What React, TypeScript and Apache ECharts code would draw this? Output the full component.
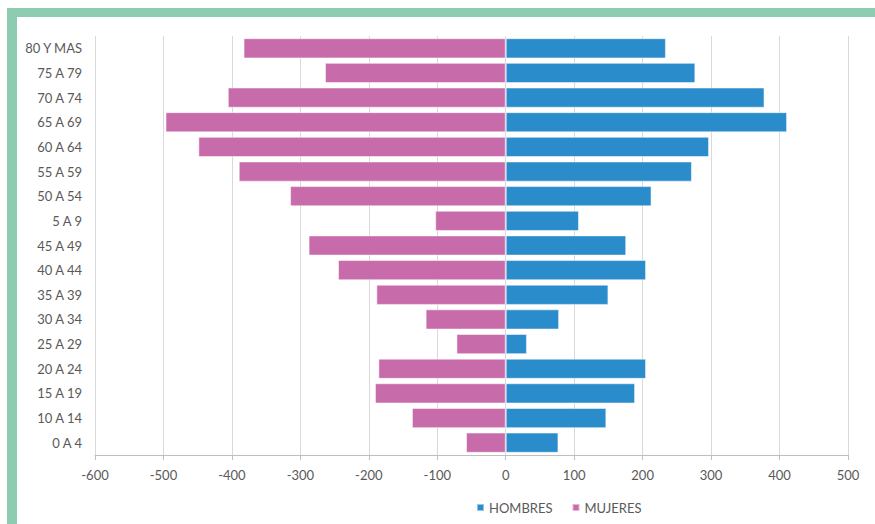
import React, { useEffect, useRef } from "react";
import * as echarts from "echarts";

const categories = [
  "0 A 4", "10 A 14", "15 A 19", "20 A 24", "25 A 29", "30 A 34", "35 A 39",
  "40 A 44", "45 A 49", "5 A 9", "50 A 54", "55 A 59", "60 A 64", "65 A 69",
  "70 A 74", "75 A 79", "80 Y MAS",
];
const hombres = [77, 147, 189, 205, 31, 78, 150, 205, 176, 107, 213, 272, 297, 411, 378, 277, 234];
const mujeres = [-58, -137, -191, -186, -72, -117, -189, -245, -288, -103, -315, -390, -449, -497, -406, -264, -383];
const seriesNames = ["HOMBRES", "MUJERES"];

const FONT = "Lato, 'Open Sans', sans-serif";

export default function App() {
  const ref = useRef<HTMLDivElement>(null);
  useEffect(() => {
    if (!ref.current) return;
    const chart = echarts.init(ref.current, null, { renderer: "svg" });
    chart.setOption({
      animation: false,
      grid: { left: 95, right: 27, top: 36, bottom: 69, containLabel: false },
      legend: {
        left: 476,
        top: 501,
        padding: 0,
        itemWidth: 7,
        itemHeight: 7,
        itemGap: 19,
        icon: "rect",
        textStyle: { fontFamily: FONT, fontSize: 13, color: "#595959" },
        data: seriesNames,
      },
      xAxis: {
        type: "value",
        min: -600,
        max: 500,
        interval: 100,
        axisLine: { show: true, onZero: false, lineStyle: { color: "#BFBFBF" } },
        axisTick: { show: true, length: 5, lineStyle: { color: "#BFBFBF" } },
        axisLabel: { margin: 13, fontFamily: FONT, fontSize: 13, color: "#595959" },
        splitLine: { show: true, lineStyle: { color: "#D9D9D9" } },
      },
      yAxis: {
        type: "category",
        data: categories,
        axisLine: { show: false, onZero: false },
        axisTick: { show: false },
        axisLabel: { margin: 13, fontFamily: FONT, fontSize: 13, color: "#595959" },
        splitLine: { show: false },
      },
      series: [
        {
          name: seriesNames[0],
          type: "bar",
          stack: "total",
          data: hombres,
          barCategoryGap: "18%",
          itemStyle: { color: "#2B8CCB", borderColor: "rgba(255,255,255,0.5)", borderWidth: 1 },
        },
        {
          name: seriesNames[1],
          type: "bar",
          stack: "total",
          data: mujeres,
          barCategoryGap: "18%",
          itemStyle: { color: "#C86BAA", borderColor: "rgba(255,255,255,0.5)", borderWidth: 1 },
        },
      ],
    });
    return () => chart.dispose();
  }, []);

  return (
    <div style={{ position: "fixed", left: 0, top: 0, width: 875, height: 524, overflow: "hidden", background: "#fff" }}>
      <div style={{ position: "absolute", left: 7, top: 8, width: 868, height: 9, background: "#8ECCB2" }} />
      <div style={{ position: "absolute", left: 7, top: 8, width: 10, height: 516, background: "#8ECCB2" }} />
      <div ref={ref} style={{ position: "absolute", left: 0, top: 0, width: 875, height: 524 }} />
    </div>
  );
}
